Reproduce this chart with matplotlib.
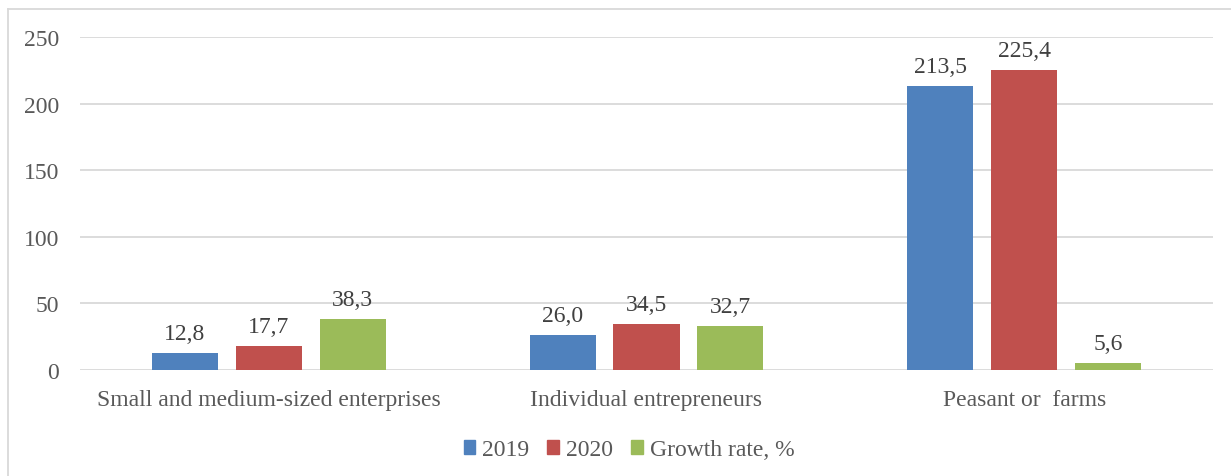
import numpy as np
import matplotlib.pyplot as plt
from matplotlib.lines import Line2D

# Data
categories = ['Small and medium-sized enterprises', 'Individual entrepreneurs', 'Peasant or  farms']
series_names = ['2019', '2020', 'Growth rate, %']
values_2019 = [12.8, 26.0, 213.5]
values_2020 = [17.7, 34.5, 225.4]
values_growth = [38.3, 32.7, 5.6]
yticks = [0, 50, 100, 150, 200, 250]

colors = ['#4F81BD', '#C0504D', '#9BBB59']
text_color = '#595959'
grid_color = '#D9D9D9'


def main():
    plt.rcParams['font.family'] = ['Liberation Serif', 'DejaVu Serif']

    fig = plt.figure(figsize=(12.31, 4.77), dpi=100)
    W, H = 1231, 477
    ax = fig.add_axes([80 / W, 106 / H, 1133 / W, 333 / H])

    x = np.arange(len(categories))
    width = 0.175
    offset = 0.222
    all_series = [values_2019, values_2020, values_growth]

    for i, (vals, col, name) in enumerate(zip(all_series, colors, series_names)):
        pos = x + (i - 1) * offset
        bars = ax.bar(pos, vals, width=width, color=col, label=name, zorder=3)
        for b, v in zip(bars, vals):
            ax.annotate(f'{v:.1f}'.replace('.', ','),
                        xy=(b.get_x() + b.get_width() / 2, v),
                        xytext=(0, 6.5), textcoords='offset points',
                        ha='center', va='bottom', fontsize=17, color='#404040')

    ax.set_xlim(-0.5, len(categories) - 0.5)
    ax.set_ylim(0, 250)
    ax.set_yticks(yticks)
    ax.set_yticklabels([str(t) for t in yticks])
    ax.set_xticks(x)
    ax.set_xticklabels(categories)
    ax.tick_params(axis='both', length=0, labelsize=17, colors=text_color)
    ax.tick_params(axis='y', pad=15)
    ax.tick_params(axis='x', pad=14)
    ax.grid(axis='y', color=grid_color, linewidth=1.3, zorder=0)
    for s in ax.spines.values():
        s.set_visible(False)

    handles = [plt.Rectangle((0, 0), 1, 1, color=c) for c in colors]
    fig.legend(handles, series_names, loc='center', ncol=3,
               bbox_to_anchor=(629 / W, 1 - 451 / H), frameon=False,
               fontsize=17, handlelength=0.5, handleheight=0.5,
               handletextpad=0.3, columnspacing=0.75, labelcolor=text_color)

    # chart border (only left and top visible in the reference)
    fig.add_artist(Line2D([8 / W, 8 / W], [0, 1 - 10 / H], transform=fig.transFigure,
                          color=grid_color, linewidth=1.3))
    fig.add_artist(Line2D([8 / W, 1], [1 - 10 / H, 1 - 10 / H], transform=fig.transFigure,
                          color=grid_color, linewidth=1.3))

    fig.savefig('out.png', dpi=100, facecolor='white')


if __name__ == '__main__':
    main()
